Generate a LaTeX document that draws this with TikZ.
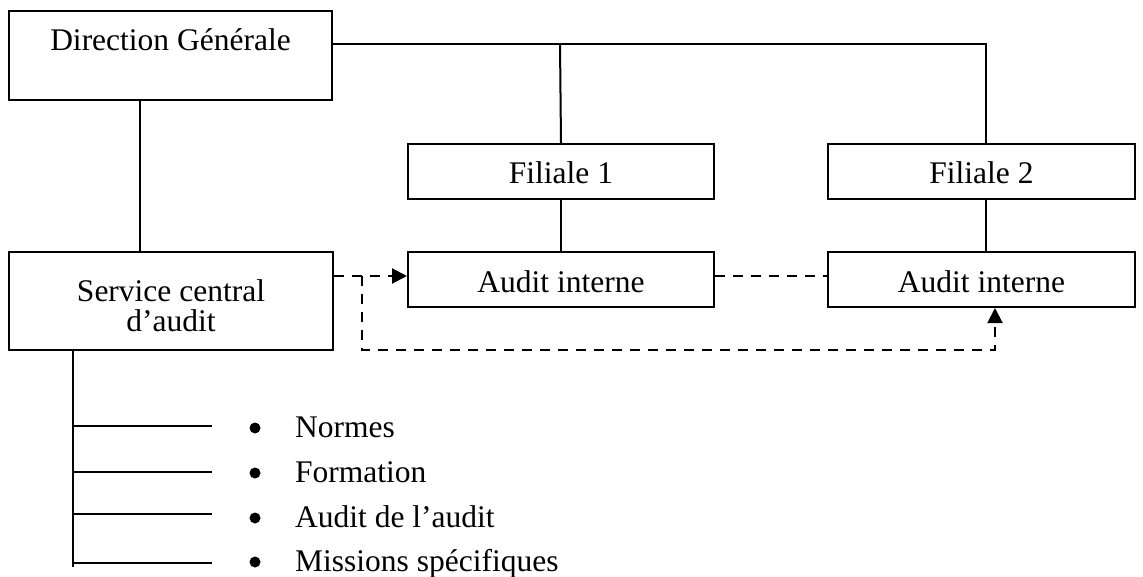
\documentclass[tikz,border=0pt]{standalone}
\usepackage{fontspec}
\setmainfont{Liberation Serif}
\usetikzlibrary{arrows.meta}
\begin{document}
\begin{tikzpicture}[x=1pt,y=-1pt,
  every node/.style={font=\fontsize{31.5}{30}\selectfont},
  box/.style={draw, line width=2pt, inner sep=0pt, anchor=north west, align=center},
  link/.style={line width=2pt},
  dashlink/.style={line width=2pt, dash pattern=on 10pt off 8pt},
  tip/.style={-{Triangle[length=15pt,width=15pt]}},
  item/.style={anchor=base west, inner sep=0pt},
  dot/.style={fill=black}]
\useasboundingbox (0,0) rectangle (1143,577);

% boxes
\node[box, minimum width=323pt, text height=40pt, text depth=49pt] (dg) at (8,10) {Direction Générale};
\node[box, minimum width=306pt, text height=40pt, text depth=15pt] (f1) at (407,143) {Filiale 1};
\node[box, minimum width=307pt, text height=40pt, text depth=15pt] (f2) at (827,143) {Filiale 2};
\node[box, minimum width=306pt, text height=41pt, text depth=14pt] (a1) at (407,251) {Audit interne};
\node[box, minimum width=307pt, text height=41pt, text depth=14pt] (a2) at (827,251) {Audit interne};
\node[box, minimum width=324pt, text height=79pt, text depth=19pt] (sc) at (8,251) {Service central\\d’audit};

% solid hierarchy links
\coordinate (j1) at (560,44);
\coordinate (j2) at (986,44);
\coordinate (v1) at (140,0);
\draw[link] (dg.east |- j1) -- (j2) -- (j2 |- f2.north);
\draw[link] (j1) -- (f1.north);
\draw[link] (dg.south -| v1) -- (sc.north -| v1);
\draw[link] (f1.south) -- (a1.north);
\draw[link] (f2.south -| j2) -- (a2.north -| j2);

% dashed audit links
\coordinate (r) at (0,276);
\coordinate (b) at (362,276);
\coordinate (k) at (995,350);
\draw[dashlink,tip] (sc.east |- r) -- (a1.west |- r);
\draw[dashlink] (a1.east |- r) -- (a2.west |- r);
\draw[dashlink,tip] (b) |- (k) -- (a2.south -| k);

% missions of the central service
\node[item] (n1) at (295,437) {Normes};
\node[item] (n2) at (295,482) {Formation};
\node[item] (n3) at (295,527) {Audit de l’audit};
\node[item] (n4) at (295,571) {Missions spécifiques};
\foreach \n in {n1,n2,n3,n4}
  \fill[dot] ([xshift=-40pt,yshift=9pt]\n.base west) circle (5.5pt);

\coordinate (t) at (73,567);
\coordinate (h1) at (212,426);
\coordinate (h2) at (212,472);
\coordinate (h3) at (212,514);
\coordinate (h4) at (212,563);
\draw[link] (sc.south -| t) -- (t);
\foreach \h in {h1,h2,h3,h4} \draw[link] (\h -| t) -- (\h);
\end{tikzpicture}
\end{document}
